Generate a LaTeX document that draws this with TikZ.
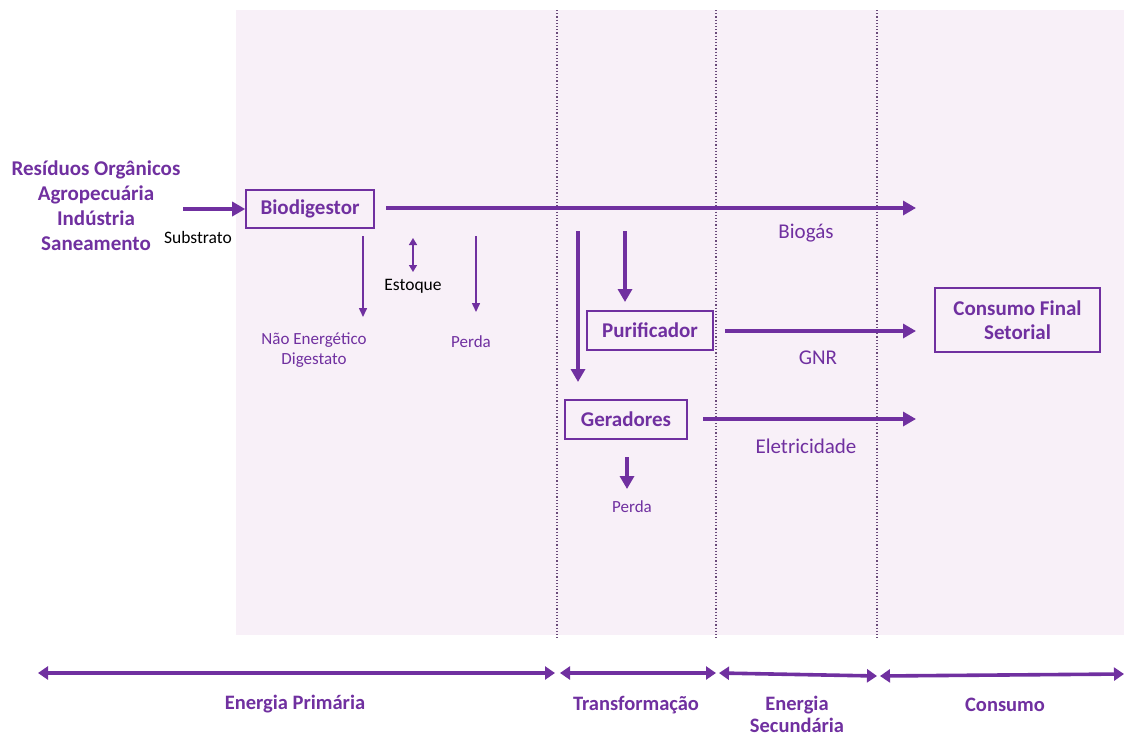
\documentclass[tikz,border=0pt]{standalone}
\usepackage{fontspec}
\setmainfont{Carlito}
\usetikzlibrary{arrows.meta}
\definecolor{flow}{HTML}{7030A0}
\definecolor{panel}{HTML}{F8F0F8}
\definecolor{divider}{HTML}{6A4A7A}
\begin{document}
\begin{tikzpicture}[x=1pt,y=-1pt,
  stagebox/.style={draw=flow,line width=1.6pt,text=flow,font=\fontsize{21}{24}\selectfont\bfseries,inner sep=0pt,align=center},
  bigflow/.style={flow,line width=3.6pt,-{Triangle[length=13pt,width=14pt]}},
  thinflow/.style={flow,line width=1.5pt,-{Triangle[length=9pt,width=8pt]}},
  span/.style={flow,line width=3.6pt,{Triangle[length=10pt,width=13pt]}-{Triangle[length=10pt,width=13pt]}},
  lbl/.style={text=flow,font=\fontsize{21}{24}\selectfont},
  small/.style={text=flow,font=\fontsize{17}{20}\selectfont,align=center},
  note/.style={font=\fontsize{17.5}{20}\selectfont},
  source/.style={text=flow,font=\fontsize{21}{25}\selectfont\bfseries,align=center},
  stage/.style={text=flow,font=\fontsize{20.5}{22}\selectfont\bfseries,align=center},
  divline/.style={divider,line width=1.2pt,dotted}
]
\useasboundingbox (0,0) rectangle (1124,737);
\fill[white] (0,0) rectangle (1124,737);
\fill[panel] (236,10) rectangle (1124,635);

% stage boundaries
\coordinate (d1t) at (557,10); \coordinate (d1b) at (557,640);
\coordinate (d2t) at (716,10); \coordinate (d2b) at (716,640);
\coordinate (d3t) at (877,10); \coordinate (d3b) at (877,640);
\draw[divline] (d1t) -- (d1b);
\draw[divline] (d2t) -- (d2b);
\draw[divline] (d3t) -- (d3b);

% sources
\node[source] (src) at (96,206) {Resíduos Orgânicos\\Agropecuária\\Indústria\\Saneamento};

% boxes
\node[stagebox,minimum width=128pt,minimum height=38pt] (bio) at (310,209) {Biodigestor};
\node[stagebox,minimum width=126pt,minimum height=39pt] (pur) at (650,330.5) {Purificador};
\node[stagebox,minimum width=122pt,minimum height=39pt] (ger) at (626,419.5) {Geradores};
\node[stagebox,minimum width=165pt,minimum height=64pt] (cfs) at (1017.5,320) {Consumo Final\\Setorial};

% substrate inflow
\coordinate (s0) at (183,209);
\draw[bigflow] (s0) -- (bio.west);
\node[note] (sub) at (198,237) {Substrato};

% biogas main flow
\coordinate (bgs) at (386,208); \coordinate (bge) at (916,208);
\draw[bigflow] (bgs) -- (bge);
\node[lbl] (bgl) at (806,233) {Biogás};

% digestate, storage, loss
\coordinate (ne0) at (363,236); \coordinate (ne1) at (363,317);
\draw[thinflow] (ne0) -- (ne1);
\node[small] (nel) at (314,350) {Não Energético\\Digestato};
\coordinate (st0) at (413,238); \coordinate (st1) at (413,272);
\draw[flow,line width=1.5pt,{Triangle[length=7pt,width=8pt]}-{Triangle[length=7pt,width=8pt]}] (st0) -- (st1);
\node[note] (stl) at (413,286) {Estoque};
\coordinate (pe0) at (476,236); \coordinate (pe1) at (476,312);
\draw[thinflow] (pe0) -- (pe1);
\node[small] (pel) at (471,342) {Perda};

% transformation branches
\coordinate (g0) at (578,231); \coordinate (g1) at (578,382);
\draw[bigflow] (g0) -- (g1);
\coordinate (p0) at (625,231); \coordinate (p1) at (625,302);
\draw[bigflow] (p0) -- (p1);
\coordinate (gnr0) at (725,331); \coordinate (gnr1) at (916,331);
\draw[bigflow] (gnr0) -- (gnr1);
\node[lbl] (gnrl) at (818,358) {GNR};
\coordinate (el0) at (703,419); \coordinate (el1) at (916,419);
\draw[bigflow] (el0) -- (el1);
\node[lbl] (ell) at (806,446) {Eletricidade};
\coordinate (lg0) at (627,457); \coordinate (lg1) at (627,489);
\draw[bigflow] (lg0) -- (lg1);
\node[small] (lgl) at (632,507) {Perda};

% stage spans
\coordinate (a0) at (38,673); \coordinate (a1) at (555,673);
\coordinate (b0) at (560,673); \coordinate (b1) at (716,673);
\coordinate (c0) at (719,673); \coordinate (c1) at (877,676);
\coordinate (e0) at (880,676); \coordinate (e1) at (1124,674);
\draw[span] (a0) -- (a1);
\draw[span] (b0) -- (b1);
\draw[span] (c0) -- (c1);
\draw[span] (e0) -- (e1);
\node[stage] (sp) at (295,704) {Energia Primária};
\node[stage] (st) at (636,705) {Transformação};
\node[stage] (ss) at (797,714) {Energia\\Secundária};
\node[stage] (sc) at (1005,705) {Consumo};
\end{tikzpicture}
\end{document}
